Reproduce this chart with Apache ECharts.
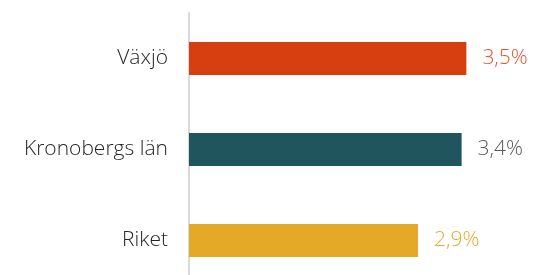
<!DOCTYPE html>
<html>
<head>
<meta charset="utf-8">
<script src="https://cdn.jsdelivr.net/npm/echarts@6/dist/echarts.min.js"></script>
<style>
  html, body { margin: 0; padding: 0; background: #fff; overflow: hidden; }
  /* taller than the window so the last band can run past the bottom edge */
  #chart { width: 535px; height: 290px; }
</style>
</head>
<body>
<div id="chart"></div>
<script>
// kategorier och värden (procent)
const categories = ["Växjö", "Kronobergs län", "Riket"];
const values = [3.5, 3.44, 2.89];
const barColors = ["#D63F0F", "#20555E", "#E3A927"];
const labelColors = ["#E4552C", "#595959", "#E6AA32"];

const FONT = "'Open Sans', Lato, sans-serif";

const myChart = echarts.init(document.getElementById("chart"));

const option = {
  animation: false,
  grid: {
    left: 189,
    right: 29,
    top: 13,
    height: 273
  },
  xAxis: {
    type: "value",
    min: 0,
    max: 4,
    show: false
  },
  yAxis: {
    type: "category",
    inverse: true,
    data: categories,
    axisLine: { show: true, lineStyle: { color: "#D9D9D9", width: 2 } },
    axisTick: { show: false },
    axisLabel: {
      margin: 21,
      fontFamily: FONT,
      fontSize: 21,
      fontWeight: 300,
      color: "#262626"
    }
  },
  series: [
    {
      type: "bar",
      barWidth: 33,
      data: values.map((v, i) => ({
        value: v,
        itemStyle: { color: barColors[i] },
        label: { color: labelColors[i] }
      })),
      label: {
        show: true,
        position: "right",
        distance: 16,
        fontFamily: FONT,
        fontSize: 21,
        fontWeight: 300,
        formatter: p => p.value.toFixed(1).replace(".", ",") + "%"
      }
    }
  ]
};

myChart.setOption(option);
</script>
</body>
</html>
